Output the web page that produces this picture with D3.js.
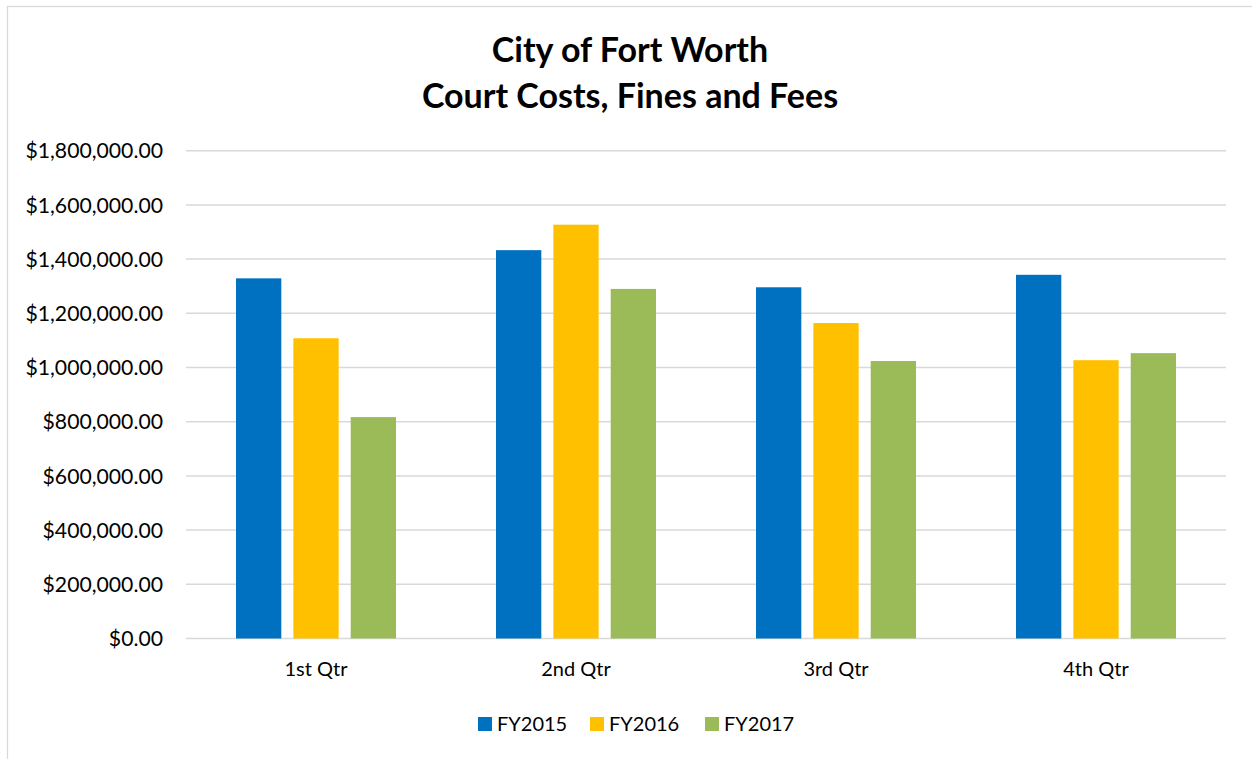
<!DOCTYPE html>
<html>
<head>
<meta charset="utf-8">
<script src="https://cdn.jsdelivr.net/npm/d3@7"></script>
<style>
  html, body { margin: 0; padding: 0; background: #fff; }
  svg { display: block; font-family: Lato, "Open Sans", sans-serif; }
  .grid line { stroke: #d9d9d9; stroke-width: 1.5; }
  .tick-lbl { font-size: 20px; fill: #000; }
  .y-lbl { font-size: 21.2px; fill: #000; }
  .title { font-size: 34px; font-weight: bold; fill: #000; }
</style>
</head>
<body>
<svg id="chart" width="1252" height="759"></svg>
<script>
// Court costs, fines and fees per quarter, three fiscal years
const quarters = ["1st Qtr", "2nd Qtr", "3rd Qtr", "4th Qtr"];
const seriesNames = ["FY2015", "FY2016", "FY2017"];
const fy2015 = [1329000, 1433000, 1296000, 1342000];
const fy2016 = [1108000, 1527000, 1164000, 1027000];
const fy2017 = [817000, 1290000, 1024000, 1053000];
const seriesColors = ["#0070C0", "#FFC000", "#9BBB59"];
const yTicks = [0, 200000, 400000, 600000, 800000, 1000000, 1200000, 1400000, 1600000, 1800000];
const titleLines = ["City of Fort Worth", "Court Costs, Fines and Fees"];

const seriesVals = [fy2015, fy2016, fy2017];

const svg = d3.select("#chart");
const W = 1252, H = 759;
const M = { top: 150.7, right: 26, bottom: 120.5, left: 186 };
const IW = W - M.left - M.right;
const IH = H - M.top - M.bottom;

// chart frame (Excel-style light border)
svg.append("rect")
  .attr("x", 7.5).attr("y", 6.5)
  .attr("width", 1260).attr("height", 770)
  .attr("fill", "#fff").attr("stroke", "#d9d9d9").attr("stroke-width", 1.3);

// title
const title = svg.append("text").attr("class", "title").attr("text-anchor", "middle");
titleLines.forEach((t, i) => {
  title.append("tspan").attr("x", 630).attr("y", 62 + i * 46).text(t);
});

const g = svg.append("g").attr("transform", `translate(${M.left},${M.top})`);

const x0 = d3.scaleBand().domain(quarters).range([0, IW]).padding(0);
const x1 = d3.scaleBand().domain(seriesNames)
  .range([50, x0.bandwidth() - 50]).paddingInner(0.21).paddingOuter(0);
const y = d3.scaleLinear().domain([0, 1800000]).range([IH, 0]);

// gridlines
g.append("g").attr("class", "grid")
  .selectAll("line").data(yTicks).join("line")
  .attr("x1", 0).attr("x2", IW)
  .attr("y1", d => y(d)).attr("y2", d => y(d));

// y labels
const fmt = d3.format("$,.2f");
g.append("g").selectAll("text").data(yTicks).join("text")
  .attr("class", "y-lbl")
  .attr("x", -23).attr("y", d => y(d)).attr("dy", "0.36em")
  .attr("text-anchor", "end")
  .text(d => fmt(d));

// bars
const groups = g.append("g").selectAll("g").data(quarters).join("g")
  .attr("transform", d => `translate(${x0(d)},0)`);
groups.selectAll("rect")
  .data((q, qi) => seriesNames.map((s, si) => ({ s, si, v: seriesVals[si][qi] })))
  .join("rect")
  .attr("x", d => x1(d.s))
  .attr("width", x1.bandwidth())
  .attr("y", d => y(d.v))
  .attr("height", d => IH - y(d.v))
  .attr("fill", d => seriesColors[d.si]);

// x labels
g.append("g").selectAll("text").data(quarters).join("text")
  .attr("class", "tick-lbl")
  .attr("x", d => x0(d) + x0.bandwidth() / 2)
  .attr("y", IH + 38)
  .attr("text-anchor", "middle")
  .text(d => d);

// legend
const legendX = [478, 590, 705];
const legend = svg.append("g").selectAll("g").data(seriesNames).join("g")
  .attr("transform", (d, i) => `translate(${legendX[i]},717)`);
legend.append("rect").attr("width", 14).attr("height", 14)
  .attr("fill", (d, i) => seriesColors[i]);
legend.append("text").attr("class", "tick-lbl")
  .attr("x", 19).attr("y", 7).attr("dy", "0.36em")
  .text(d => d);
</script>
</body>
</html>
